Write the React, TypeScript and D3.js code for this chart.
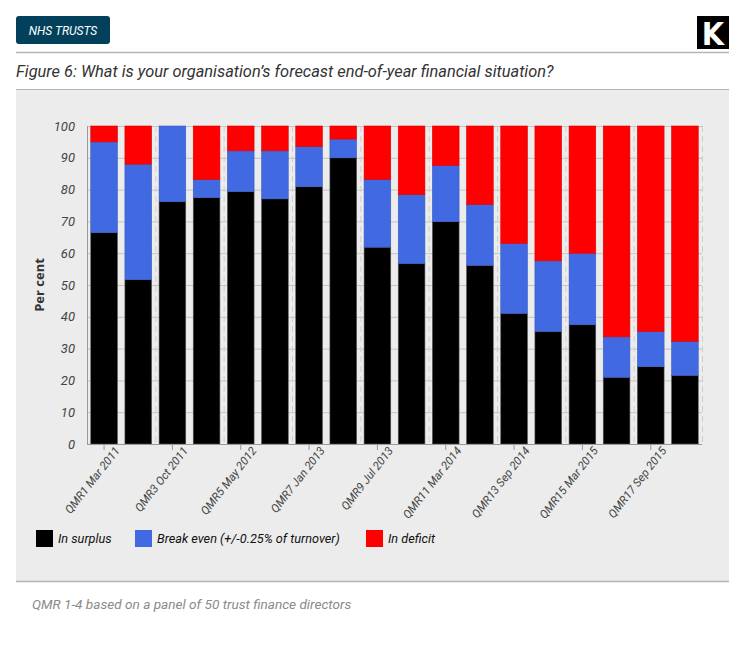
import React, { useRef, useEffect } from 'react';
import * as d3 from 'd3';

// QMR survey rounds (only odd rounds are labelled on the axis)
const rounds = [
  'QMR1 Mar 2011', 'QMR2', 'QMR3 Oct 2011', 'QMR4', 'QMR5 May 2012', 'QMR6',
  'QMR7 Jan 2013', 'QMR8', 'QMR9 Jul 2013', 'QMR10', 'QMR11 Mar 2014', 'QMR12',
  'QMR13 Sep 2014', 'QMR14', 'QMR15 Mar 2015', 'QMR16', 'QMR17 Sep 2015', 'QMR18',
];
const inSurplus = [66.5, 51.7, 76.2, 77.5, 79.4, 77.1, 80.9, 90.0, 61.9, 56.8, 69.9, 56.2, 41.1, 35.4, 37.5, 21.0, 24.3, 21.6];
const breakEven = [28.5, 36.3, 23.8, 5.7, 12.8, 15.1, 12.6, 5.9, 21.3, 21.6, 17.7, 19.1, 22.0, 22.2, 22.5, 12.7, 11.1, 10.7];
const inDeficit = [5.0, 12.0, 0.0, 16.8, 7.8, 7.8, 6.5, 4.1, 16.8, 21.6, 12.4, 24.7, 36.9, 42.4, 40.0, 66.3, 64.6, 67.7];

const seriesKeys = ['surplus', 'breakEven', 'deficit'];
const seriesLabels = ['In surplus', 'Break even (+/-0.25% of turnover)', 'In deficit'];
const seriesColors = ['#000000', '#4169e1', '#ff0000'];
const yTicks = [0, 10, 20, 30, 40, 50, 60, 70, 80, 90, 100];

const W = 745;
const H = 671;
const font = 'Roboto, "Open Sans", sans-serif';

const App: React.FC = () => {
  const svgRef = useRef<SVGSVGElement>(null);

  useEffect(() => {
    document.body.style.margin = '0';
    const svg = d3.select(svgRef.current);
    svg.selectAll('*').remove();

    // Header
    svg.append('rect').attr('x', 16).attr('y', 16).attr('width', 94).attr('height', 28)
      .attr('rx', 3).attr('fill', '#02405c');
    svg.append('text').attr('x', 63).attr('y', 35).attr('text-anchor', 'middle')
      .attr('fill', '#fff').style('font-family', font).style('font-style', 'italic')
      .style('font-size', '12px').text('NHS TRUSTS');

    svg.append('rect').attr('x', 697).attr('y', 16).attr('width', 32).attr('height', 33).attr('fill', '#000');
    svg.append('text').attr('x', 713).attr('y', 45).attr('text-anchor', 'middle')
      .attr('fill', '#fff').style('font-family', '"DejaVu Sans Condensed", "DejaVu Sans", sans-serif')
      .style('font-weight', 'bold').style('font-size', '32px').text('K');

    svg.append('line').attr('x1', 16).attr('x2', 729).attr('y1', 52.5).attr('y2', 52.5)
      .attr('stroke', '#b5b5b5').attr('stroke-width', 1.5);
    svg.append('text').attr('x', 16).attr('y', 77).attr('fill', '#333')
      .style('font-family', font).style('font-style', 'italic').style('font-size', '16.4px')
      .text('Figure 6: What is your organisation’s forecast end-of-year financial situation?');

    // Grey panel
    svg.append('rect').attr('x', 16).attr('y', 89).attr('width', 713).attr('height', 492).attr('fill', '#ebeceb');
    svg.append('line').attr('x1', 16).attr('x2', 729).attr('y1', 89.5).attr('y2', 89.5)
      .attr('stroke', '#b5b5b5').attr('stroke-width', 1);
    svg.append('line').attr('x1', 16).attr('x2', 729).attr('y1', 581.5).attr('y2', 581.5)
      .attr('stroke', '#b5b5b5').attr('stroke-width', 1.5);

    svg.append('text').attr('x', 32).attr('y', 609).attr('fill', '#8a8a8a')
      .style('font-family', font).style('font-style', 'italic').style('font-size', '13.6px')
      .text('QMR 1-4 based on a panel of 50 trust finance directors');

    // Chart
    const left = 87;
    const right = 702;
    const top = 126;
    const bottom = 444;

    const x = d3.scaleBand<string>().domain(rounds).range([left, right]).paddingInner(0.22).paddingOuter(0.11);
    const y = d3.scaleLinear().domain([0, 100]).range([bottom, top]);

    const g = svg.append('g');

    // horizontal grid
    g.selectAll('.hgrid').data(yTicks).enter().append('line')
      .attr('x1', left).attr('x2', right)
      .attr('y1', d => y(d) + 0.5).attr('y2', d => y(d) + 0.5)
      .attr('stroke', '#c4c4c4').attr('stroke-width', 1);

    // vertical dashed grid, every two categories
    const step = x.step();
    const vIdx = d3.range(0, rounds.length + 1, 2);
    g.selectAll('.vgrid').data(vIdx).enter().append('line')
      .attr('x1', d => left + d * step + 0.5).attr('x2', d => left + d * step + 0.5)
      .attr('y1', top).attr('y2', bottom)
      .attr('stroke', '#cfcfcf').attr('stroke-dasharray', '6,4');

    const rows = rounds.map((r, i) => ({
      round: r, surplus: inSurplus[i], breakEven: breakEven[i], deficit: inDeficit[i],
    }));
    const stacked = d3.stack<any>().keys(seriesKeys)(rows);

    stacked.forEach((layer, li) => {
      g.selectAll(`.bar-${li}`).data(layer).enter().append('rect')
        .attr('x', (d: any) => x(d.data.round) as number)
        .attr('width', x.bandwidth())
        .attr('y', (d: any) => y(d[1]))
        .attr('height', (d: any) => Math.max(0, y(d[0]) - y(d[1])))
        .attr('fill', seriesColors[li])
        .attr('stroke', li === 0 ? '#555' : d3.color(seriesColors[li])!.darker(0.4).toString())
        .attr('stroke-width', 0.6);
    });

    // y axis
    const yAxis = g.append('g').attr('transform', `translate(${left},0)`)
      .call(d3.axisLeft(y).tickValues(yTicks).tickSize(0).tickPadding(12));
    yAxis.select('.domain').remove();
    yAxis.selectAll('text').attr('fill', '#444').style('font-family', font)
      .style('font-style', 'italic').style('font-size', '13px');
    g.append('line').attr('x1', left + 0.5).attr('x2', left + 0.5).attr('y1', top).attr('y2', bottom)
      .attr('stroke', '#999');

    // x axis
    const labelled = rounds.filter((_, i) => i % 2 === 0);
    const xAxis = g.append('g').attr('transform', `translate(0,${bottom})`)
      .call(d3.axisBottom(x).tickValues(labelled).tickSize(6).tickSizeOuter(0));
    xAxis.select('.domain').attr('stroke', '#999');
    xAxis.selectAll('.tick line').attr('stroke', '#999');
    xAxis.selectAll('text')
      .attr('fill', '#444')
      .style('font-family', font).style('font-style', 'italic').style('font-size', '11.5px')
      .attr('text-anchor', 'end')
      .attr('dx', '0.4em').attr('dy', '0.7em')
      .attr('transform', 'rotate(-52)');
    xAxis.select('.domain').attr('d', `M${left},0.5H${right}`);

    // y title
    g.append('text').attr('transform', `translate(44,${(top + bottom) / 2}) rotate(-90)`)
      .attr('text-anchor', 'middle').attr('fill', '#333')
      .style('font-family', '"Open Sans", sans-serif').style('font-weight', 'bold').style('font-size', '13px')
      .text('Per cent');

    // legend
    const legendX = [36, 135, 366];
    seriesLabels.forEach((lab, i) => {
      svg.append('rect').attr('x', legendX[i]).attr('y', 530).attr('width', 17).attr('height', 17)
        .attr('fill', seriesColors[i]);
      svg.append('text').attr('x', legendX[i] + 22).attr('y', 543).attr('fill', '#111')
        .style('font-family', font).style('font-style', 'italic').style('font-size', '12.7px')
        .text(lab);
    });
  }, []);

  return <svg ref={svgRef} width={W} height={H} style={{ display: 'block', background: '#fff' }} />;
};

export default App;
